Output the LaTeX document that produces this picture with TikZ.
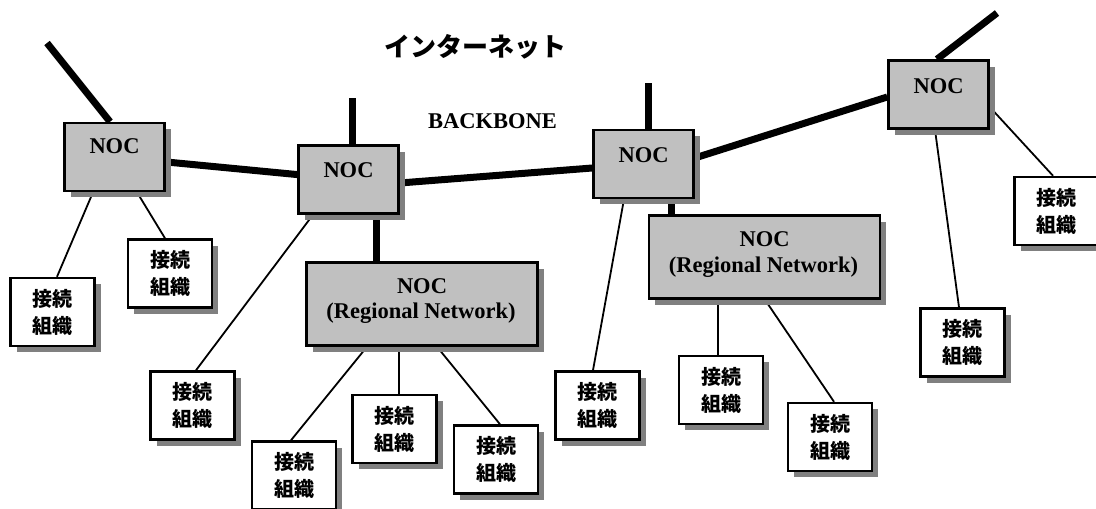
\documentclass[tikz,border=0pt]{standalone}
\usepackage{fontspec}
\setmainfont{Liberation Serif}
\newfontfamily\jp{Noto Sans CJK JP}
\usetikzlibrary{shadows,backgrounds}
\definecolor{boxgray}{RGB}{192,192,192}
\definecolor{shadowgray}{RGB}{128,128,128}
\begin{document}
\begin{tikzpicture}[x=1pt,y=-1pt,
  shd/.style={drop shadow={shadow xshift=6pt, shadow yshift=-6pt, fill=shadowgray, opacity=1}},
  noc/.style={draw=black, line width=2.5pt, fill=boxgray, minimum width=100pt, minimum height=68pt, inner sep=0pt, shd},
  reg/.style={noc, minimum width=231pt, minimum height=83pt},
  org/.style={draw=black, line width=2.5pt, fill=white, minimum width=84pt, minimum height=68pt, inner sep=0pt, align=center, font=\jp\bfseries\fontsize{20}{27}\selectfont, shd},
  lbl/.style={font=\bfseries\fontsize{22.5}{25}\selectfont, anchor=base, inner sep=0pt},
  trunk/.style={line width=7pt},
  link/.style={line width=1.8pt}]
\useasboundingbox (0,0) rectangle (1096,509);
\clip (0,0) rectangle (1096,509);

% NOC boxes
\node[noc] (n1) at (114.5,157) {};
\node[noc] (n2) at (348.5,179.5) {};
\node[noc] (n3) at (643.5,164) {};
\node[noc] (n4) at (938.5,94.5) {};
\node[reg] (r1) at (422,304) {};
\node[reg] (r2) at (764.5,257) {};

% organisation boxes
\node[org] (a) at (52.5,312) {接続\\組織};
\node[org] (b) at (170,273.5) {接続\\組織};
\node[org] (c) at (192.5,405.5) {接続\\組織};
\node[org] (d) at (294,475.5) {接続\\組織};
\node[org] (e) at (394.5,429) {接続\\組織};
\node[org] (f) at (496,459.5) {接続\\組織};
\node[org] (g) at (597.5,405.5) {接続\\組織};
\node[org] (j) at (721,390) {接続\\組織};
\node[org] (k) at (830,437) {接続\\組織};
\node[org] (h) at (1056.5,211) {接続\\組織};
\node[org] (i) at (962.5,342.5) {接続\\組織};

% labels
\node[lbl] (t1) at (114.5,153) {NOC};
\node[lbl] (t2) at (348.5,177) {NOC};
\node[lbl] (t3) at (643.5,162) {NOC};
\node[lbl] (t4) at (938.5,93) {NOC};
\node[lbl] (t5) at (422,293) {NOC};
\node[lbl] (t6) at (421,318) {(Regional Network)};
\node[lbl] (t7) at (764.5,246) {NOC};
\node[lbl] (t8) at (763.5,272) {(Regional Network)};
\node[lbl] (bb) at (492.5,128) {BACKBONE};
\node[font=\jp\bfseries\fontsize{26}{26}\selectfont, inner sep=0pt] (title) at (475,47) {インターネット};

% free ends of the backbone
\coordinate (e1) at (47,43);
\coordinate (e2) at (352,98);
\coordinate (e3) at (648,83);
\coordinate (e4) at (997,13);

\begin{scope}[on background layer]
  \draw[trunk] (e1) -- ([shift={(-4.5,0)}]n1.north);
  \draw[trunk] (n1) -- (n2);
  \draw[trunk] ([shift={(0,3.5)}]n2.east) -- ([shift={(0,4)}]n3.west);
  \draw[trunk] ([shift={(0,-6)}]n3.east) -- ([shift={(0,2.5)}]n4.west);
  \draw[trunk] (e2) -- (e2 |- n2.north);
  \draw[trunk] ([shift={(27.5,0)}]n2.south) -- ([shift={(27.5,0)}]n2.south |- r1.north);
  \draw[trunk] (e3) -- (e3 |- n3.north);
  \draw[trunk] ([shift={(27.5,0)}]n3.south) -- ([shift={(27.5,0)}]n3.south |- r2.north);
  \draw[trunk] (e4) -- ([shift={(-1.5,0)}]n4.north);

  \draw[link] ([shift={(-21.5,0)}]n1.south) -- ([shift={(4.5,0)}]a.north);
  \draw[link] ([shift={(22.5,0)}]n1.south) -- ([shift={(-5,0)}]b.north);
  \draw[link] ([shift={(-35.5,0)}]n2.south) -- ([shift={(3.5,0)}]c.north);
  \draw[link] ([shift={(-55,0)}]r1.south) -- ([shift={(-3,0)}]d.north);
  \draw[link] ([shift={(-23,0)}]r1.south) -- ([shift={(-23,0)}]r1.south |- e.north);
  \draw[link] ([shift={(15,0)}]r1.south) -- ([shift={(4,0)}]f.north);
  \draw[link] ([shift={(-19.5,0)}]n3.south) -- ([shift={(-4.5,0)}]g.north);
  \draw[link] ([shift={(-46.5,0)}]r2.south) -- ([shift={(-46.5,0)}]r2.south |- j.north);
  \draw[link] ([shift={(0.5,0)}]r2.south) -- ([shift={(4,0)}]k.north);
  \draw[link] ([shift={(0,12.5)}]n4.east) -- ([shift={(-3.5,0)}]h.north);
  \draw[link] ([shift={(-3.5,0)}]n4.south) -- ([shift={(-3.5,0)}]i.north);
\end{scope}
\end{tikzpicture}
\end{document}
